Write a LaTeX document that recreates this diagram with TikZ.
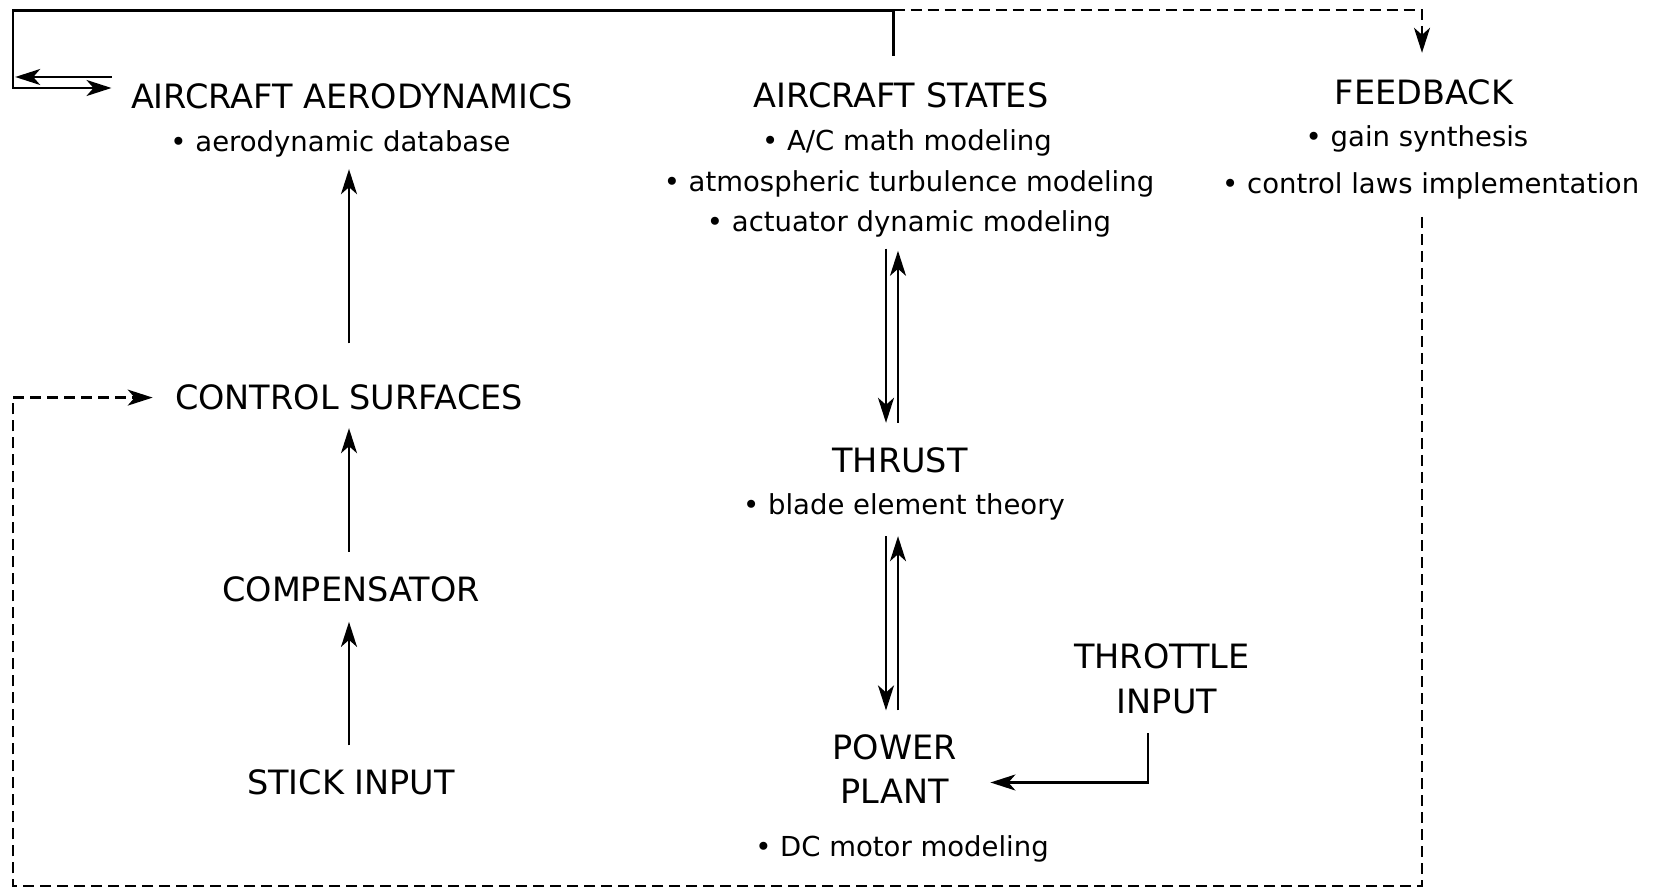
\documentclass[tikz,border=0pt]{standalone}
\usepackage{fontspec}
\setmainfont{DejaVu Sans}
\usetikzlibrary{arrows.meta,calc}

\tikzset{
  title/.style={inner sep=0pt, text height=24.4pt, text depth=0pt,
                font=\fontsize{33.5}{40}\selectfont},
  item/.style={inner sep=0pt, text height=20pt, text depth=0pt,
               font=\fontsize{27.5}{33}\selectfont},
  link/.style={line width=2.2pt},
  tip/.style={-{Stealth[length=25pt, width=16pt, inset=7pt]}},
  arr/.style={link, tip},
  fb/.style={link, dash pattern=on 11pt off 6pt},
}

\begin{document}
\begin{tikzpicture}[x=1pt, y=-1pt]
\useasboundingbox (0,0) rectangle (1658,890);
\fill[white] (0,0) rectangle (1658,890);

% left column
\node[title] (aeT)  at (352,96.2)  {AIRCRAFT AERODYNAMICS};
\node[item]  (aeB)  at (340.5,141.7) {\textbullet\ aerodynamic database};
\node[title] (ctrl) at (349,397.6) {CONTROL SURFACES};
\node[title] (comp) at (351,589)   {COMPENSATOR};
\node[title] (stick) at (351,782.5) {STICK INPUT};

% middle column
\node[title] (stT) at (901,95.2)  {AIRCRAFT STATES};
\node[item]  (st1) at (907,140.6) {\textbullet\ A/C math modeling};
\node[item]  (st2) at (909,181.9) {\textbullet\ atmospheric turbulence modeling};
\node[item]  (st3) at (909,222)   {\textbullet\ actuator dynamic modeling};
\node[title] (thT) at (900,460)   {THRUST};
\node[item]  (thB) at (904,504.4) {\textbullet\ blade element theory};
\node[title] (power) at (894.6,747.6) {POWER};
\node[title] (plant) at (894.6,791)   {PLANT};
\node[item]  (dc)    at (902,846)     {\textbullet\ DC motor modeling};

% right column
\node[title] (thr) at (1162,656.6) {THROTTLE};
\node[title] (inp) at (1167,701)   {INPUT};
\node[title] (fbT) at (1424,92)    {FEEDBACK};
\node[item]  (fb1) at (1417,136.4) {\textbullet\ gain synthesis};
\node[item]  (fb2) at (1430.7,184) {\textbullet\ control laws implementation};

% stick -> compensator -> control surfaces -> aerodynamics
\draw[arr, shorten <=24.8pt, shorten >=20.5pt]
  (stick.north -| ctrl.north) -- (comp.south -| ctrl.north);
\draw[arr, shorten <=24.8pt, shorten >=18.2pt]
  (comp.north -| ctrl.north) -- (ctrl.south);
\draw[arr, shorten <=41.8pt, shorten >=17.3pt] (ctrl.north) -- (ctrl.north |- aeB.south);

% states <-> thrust
\draw[arr, shorten <=16.5pt, shorten >=24.8pt]
  ($(thT.north |- st3.south)+(-14,0)$) -- ($(thT.north)+(-14,0)$);
\draw[arr, shorten <=24.8pt, shorten >=18.6pt]
  ($(thT.north)+(-2,0)$) -- ($(thT.north |- st3.south)+(-2,0)$);

% thrust <-> power plant
\draw[arr, shorten <=21.6pt, shorten >=24.8pt]
  ($(thB.south)+(-18,0)$) -- ($(thB.south |- power.north)+(-18,0)$);
\draw[arr, shorten <=24.8pt, shorten >=21.6pt]
  ($(thB.south |- power.north)+(-6,0)$) -- ($(thB.south)+(-6,0)$);

% throttle -> power plant
\draw[arr, shorten <=19.8pt, shorten >=41.6pt]
  ($(inp.south)+(-18.7,0)$) |- ($(plant.east)+(0,-8.5)$);

% states loop back to aerodynamics
\draw[arr, shorten <=27pt, shorten >=19.3pt]
  ($(stT.north)+(-7.5,0)$) |- (12.7,10.6) |- ($(aeT.west)+(0,-8.2)$);
\draw[arr, shorten <=19.3pt]
  ($(aeT.west)+(0,-19.2)$) -- ($(aeT.west)+(-115.6,-19.2)$);

% feedback paths (dashed)
\draw[fb, tip, shorten >=26.8pt]
  ($(stT.north)+(-7.5,-72.4)$) -| ($(fbT.north)+(-2,0)$);
\draw[fb, tip, shorten <=22.8pt, shorten >=22.3pt]
  ($(fb2.south)+(-8.7,0)$) |- (12.7,886) |- (ctrl.west);
\end{tikzpicture}
\end{document}
